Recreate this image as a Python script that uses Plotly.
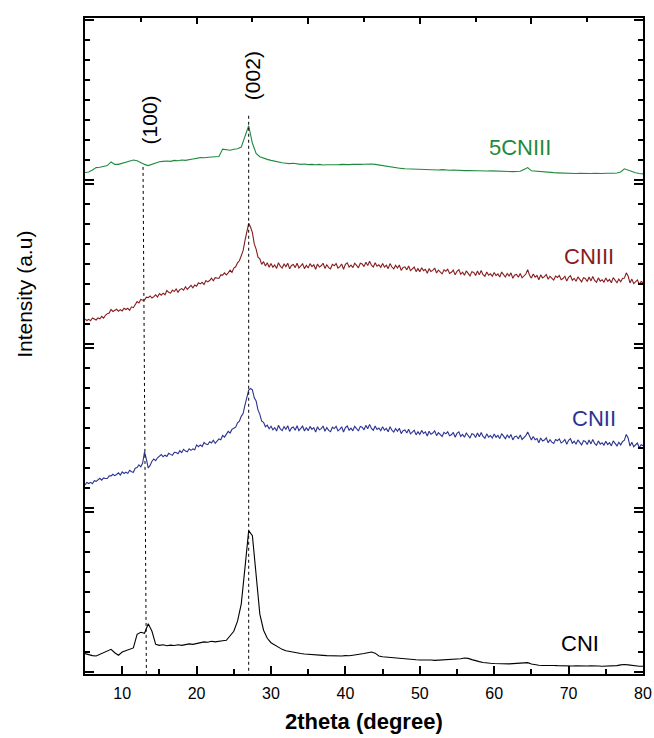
import plotly.graph_objects as go
from plotly.subplots import make_subplots

# ---------------- data ----------------
theta_start = 5.0          # 2theta of first sample (degree)
step_smooth = 0.5          # sampling step of 5CNIII and CNI (degree)
step_noisy = 0.25          # sampling step of CNIII and CNII (degree)

series_names = ["5CNIII", "CNIII", "CNII", "CNI"]

int_5cniii = [
    0.40, 0.42, 0.52, 0.64, 0.66, 0.70, 0.74, 0.92, 0.80, 0.80,
    0.86, 0.90, 0.97, 1.02, 0.98, 0.88, 0.80, 0.74, 0.80, 0.88,
    0.93, 0.95, 0.97, 0.95, 1.00, 0.98, 1.02, 1.00, 1.05, 1.07,
    1.10, 1.14, 1.13, 1.16, 1.17, 1.18, 1.19, 1.56, 1.52, 1.50,
    1.55, 1.58, 1.66, 2.14, 2.72, 1.85, 1.35, 1.18, 1.10, 1.05,
    1.00, 0.95, 0.92, 0.88, 0.86, 0.84, 0.86, 0.82, 0.80, 0.82,
    0.79, 0.80, 0.78, 0.80, 0.77, 0.78, 0.77, 0.79, 0.78, 0.80,
    0.78, 0.79, 0.80, 0.79, 0.80, 0.81, 0.82, 0.82, 0.80, 0.77,
    0.72, 0.69, 0.66, 0.64, 0.62, 0.60, 0.58, 0.57, 0.56, 0.55,
    0.55, 0.53, 0.54, 0.52, 0.53, 0.52, 0.54, 0.52, 0.51, 0.52,
    0.50, 0.51, 0.49, 0.50, 0.49, 0.48, 0.49, 0.48, 0.47, 0.48,
    0.47, 0.46, 0.47, 0.45, 0.46, 0.44, 0.45, 0.46, 0.55, 0.64,
    0.48, 0.46, 0.44, 0.42, 0.41, 0.40, 0.39, 0.38, 0.37, 0.36,
    0.37, 0.36, 0.35, 0.36, 0.35, 0.36, 0.35, 0.36, 0.34, 0.35,
    0.36, 0.35, 0.36, 0.37, 0.42, 0.58, 0.50, 0.42, 0.38, 0.35,
    0.33,
]

int_cniii = [
    1.26, 1.19, 1.25, 1.18, 1.32, 1.25, 1.22, 1.32, 1.28, 1.40,
    1.31, 1.45, 1.53, 1.56, 1.74, 1.64, 1.70, 1.75, 1.65, 1.73,
    1.67, 1.80, 1.74, 1.80, 1.70, 1.87, 1.83, 1.96, 2.13, 2.06,
    2.24, 2.20, 2.21, 2.35, 2.33, 2.41, 2.31, 2.38, 2.47, 2.36,
    2.53, 2.45, 2.55, 2.47, 2.68, 2.59, 2.55, 2.70, 2.63, 2.76,
    2.60, 2.73, 2.78, 2.70, 2.87, 2.74, 2.84, 2.94, 2.82, 2.96,
    2.90, 3.07, 3.01, 3.09, 2.98, 3.18, 3.11, 3.18, 3.30, 3.17,
    3.32, 3.28, 3.28, 3.46, 3.45, 3.56, 3.46, 3.56, 3.69, 3.58,
    3.80, 3.86, 4.06, 4.16, 4.40, 4.66, 5.16, 5.56, 6.02, 5.84,
    5.56, 5.00, 4.74, 4.34, 4.26, 3.98, 4.12, 3.90, 4.06, 3.84,
    4.02, 3.84, 3.95, 3.78, 4.06, 3.89, 3.80, 4.00, 3.87, 4.04,
    3.76, 3.93, 3.98, 3.82, 4.04, 3.80, 3.90, 4.01, 3.77, 3.94,
    3.80, 4.02, 3.87, 3.96, 3.74, 4.00, 3.85, 3.91, 4.04, 3.78,
    3.96, 3.82, 3.76, 3.98, 3.91, 4.02, 3.80, 3.87, 4.00, 3.74,
    3.98, 4.06, 3.85, 3.95, 3.82, 4.04, 3.93, 3.81, 4.04, 4.00,
    3.87, 4.09, 3.92, 4.14, 3.94, 3.85, 4.06, 3.89, 3.96, 3.83,
    4.02, 3.85, 3.94, 3.77, 4.02, 3.85, 3.76, 3.93, 3.80, 3.95,
    3.68, 3.83, 3.86, 3.71, 3.90, 3.67, 3.76, 3.85, 3.62, 3.77,
    3.62, 3.81, 3.67, 3.74, 3.54, 3.77, 3.63, 3.68, 3.80, 3.55,
    3.70, 3.58, 3.51, 3.71, 3.64, 3.74, 3.53, 3.59, 3.70, 3.46,
    3.64, 3.72, 3.49, 3.59, 3.44, 3.66, 3.53, 3.41, 3.62, 3.58,
    3.43, 3.65, 3.46, 3.68, 3.47, 3.39, 3.60, 3.44, 3.51, 3.39,
    3.58, 3.42, 3.51, 3.35, 3.60, 3.44, 3.35, 3.53, 3.40, 3.56,
    3.29, 3.45, 3.48, 3.34, 3.53, 3.31, 3.40, 3.50, 3.72, 3.44,
    3.30, 3.50, 3.35, 3.43, 3.22, 3.46, 3.31, 3.37, 3.48, 3.24,
    3.39, 3.27, 3.20, 3.40, 3.33, 3.43, 3.22, 3.28, 3.39, 3.15,
    3.34, 3.42, 3.19, 3.29, 3.14, 3.36, 3.23, 3.11, 3.32, 3.28,
    3.13, 3.35, 3.16, 3.38, 3.18, 3.09, 3.31, 3.15, 3.22, 3.10,
    3.30, 3.14, 3.23, 3.07, 3.32, 3.16, 3.07, 3.25, 3.12, 3.28,
    3.30, 3.56, 3.40, 3.06, 3.25, 3.03, 3.12, 3.21, 2.98, 3.13,
    3.07,
]

int_cnii = [
    1.17, 1.29, 1.24, 1.30, 1.23, 1.38, 1.35, 1.41, 1.50, 1.41,
    1.52, 1.49, 1.49, 1.62, 1.62, 1.70, 1.63, 1.69, 1.77, 1.66,
    1.82, 1.74, 1.81, 1.74, 1.90, 1.83, 1.80, 2.00, 2.03, 2.17,
    2.07, 2.26, 2.81, 2.45, 2.01, 2.14, 2.35, 2.46, 2.38, 2.52,
    2.61, 2.68, 2.57, 2.65, 2.59, 2.74, 2.69, 2.64, 2.79, 2.78,
    2.72, 2.87, 2.78, 2.94, 2.85, 2.82, 2.97, 2.89, 2.96, 2.92,
    3.16, 3.07, 3.16, 3.08, 3.28, 3.20, 3.17, 3.32, 3.26, 3.39,
    3.24, 3.38, 3.46, 3.42, 3.63, 3.55, 3.69, 3.83, 3.75, 3.93,
    3.99, 4.04, 4.26, 4.34, 4.58, 4.72, 5.14, 5.46, 5.88, 5.96,
    5.90, 5.50, 5.34, 4.90, 4.68, 4.34, 4.28, 4.06, 4.14, 3.96,
    4.09, 3.91, 4.02, 3.85, 4.13, 3.96, 3.87, 4.07, 3.94, 4.11,
    3.83, 4.00, 4.05, 3.89, 4.11, 3.87, 3.98, 4.09, 3.85, 4.02,
    3.86, 4.08, 3.93, 4.02, 3.80, 4.06, 3.91, 3.97, 4.10, 3.84,
    4.02, 3.88, 3.82, 4.04, 3.97, 4.08, 3.86, 3.93, 4.06, 3.80,
    4.02, 4.10, 3.89, 3.99, 3.86, 4.08, 3.97, 3.85, 4.08, 4.04,
    3.91, 4.13, 3.96, 4.18, 3.98, 3.89, 4.10, 3.93, 4.00, 3.87,
    4.06, 3.89, 3.98, 3.81, 4.06, 3.89, 3.80, 3.97, 3.84, 3.99,
    3.72, 3.87, 3.90, 3.75, 3.94, 3.71, 3.80, 3.89, 3.66, 3.81,
    3.68, 3.88, 3.73, 3.81, 3.60, 3.84, 3.69, 3.75, 3.86, 3.62,
    3.77, 3.65, 3.58, 3.78, 3.71, 3.81, 3.61, 3.66, 3.78, 3.54,
    3.73, 3.81, 3.58, 3.68, 3.54, 3.75, 3.63, 3.50, 3.72, 3.68,
    3.53, 3.75, 3.56, 3.78, 3.58, 3.49, 3.71, 3.54, 3.62, 3.50,
    3.70, 3.54, 3.63, 3.47, 3.72, 3.56, 3.47, 3.65, 3.52, 3.68,
    3.41, 3.57, 3.60, 3.46, 3.65, 3.43, 3.52, 3.62, 3.80, 3.56,
    3.40, 3.58, 3.42, 3.48, 3.27, 3.50, 3.35, 3.40, 3.51, 3.27,
    3.42, 3.30, 3.23, 3.43, 3.37, 3.46, 3.26, 3.32, 3.43, 3.19,
    3.39, 3.47, 3.24, 3.34, 3.19, 3.41, 3.28, 3.16, 3.37, 3.33,
    3.18, 3.40, 3.21, 3.43, 3.23, 3.14, 3.36, 3.20, 3.27, 3.15,
    3.34, 3.18, 3.27, 3.11, 3.36, 3.20, 3.11, 3.29, 3.16, 3.32,
    3.40, 3.68, 3.50, 3.10, 3.29, 3.07, 3.16, 3.25, 3.02, 3.17,
    3.12,
]

int_cni = [
    0.94, 0.88, 0.84, 0.82, 0.90, 0.96, 1.08, 1.15, 0.98, 0.86,
    1.02, 1.10, 1.14, 1.22, 1.90, 2.00, 1.95, 2.42, 2.05, 1.40,
    1.35, 1.38, 1.33, 1.36, 1.34, 1.38, 1.35, 1.40, 1.42, 1.40,
    1.45, 1.48, 1.52, 1.50, 1.55, 1.52, 1.56, 1.58, 1.60, 1.80,
    2.05, 2.55, 3.40, 5.20, 7.05, 6.80, 4.70, 2.90, 2.10, 1.70,
    1.48, 1.36, 1.25, 1.15, 1.08, 1.04, 1.00, 0.97, 0.94, 0.92,
    0.90, 0.88, 0.87, 0.86, 0.85, 0.84, 0.83, 0.82, 0.83, 0.82,
    0.84, 0.83, 0.86, 0.88, 0.90, 0.94, 0.98, 1.02, 0.96, 0.82,
    0.78, 0.76, 0.74, 0.72, 0.70, 0.68, 0.66, 0.65, 0.64, 0.63,
    0.62, 0.63, 0.61, 0.62, 0.60, 0.61, 0.62, 0.64, 0.63, 0.65,
    0.66, 0.68, 0.72, 0.70, 0.64, 0.58, 0.54, 0.50, 0.47, 0.46,
    0.45, 0.44, 0.45, 0.44, 0.43, 0.44, 0.45, 0.48, 0.50, 0.49,
    0.42, 0.38, 0.36, 0.35, 0.36, 0.34, 0.35, 0.34, 0.33, 0.34,
    0.33, 0.32, 0.33, 0.32, 0.31, 0.32, 0.33, 0.31, 0.32, 0.31,
    0.32, 0.31, 0.33, 0.34, 0.38, 0.40, 0.38, 0.35, 0.32, 0.31,
    0.31,
]

series_values = [int_5cniii, int_cniii, int_cnii, int_cni]
series_steps = [step_smooth, step_noisy, step_noisy, step_smooth]

peak_labels = ["(100)", "(002)"]
peak_theta_top = [12.8, 27.0]
peak_theta_bottom = [13.25, 27.0]

# ---------------- styles / positions ----------------
series_colors = ["#1e8a3e", "#861c1f", "#2b3491", "#000000"]
label_pos = [(63.4, 0.803), (72.8, 0.636), (73.4, 0.390), (71.5, 0.047)]
peak_line_top = [0.773, 0.851]           # paper y where dotted lines start
peak_label_pos = [(13.7, 0.845), (27.5, 0.912)]

FONT = "Liberation Sans, Arial, sans-serif"

fig = make_subplots(rows=4, cols=1, vertical_spacing=0)

for i, (name, vals, step, col) in enumerate(
        zip(series_names, series_values, series_steps, series_colors)):
    fig.add_trace(
        go.Scatter(
            x0=theta_start, dx=step, y=vals, mode="lines", name=name,
            line=dict(color=col, width=1.1), showlegend=False, hoverinfo="skip",
        ),
        row=i + 1, col=1,
    )

for r in range(1, 5):
    fig.update_yaxes(
        range=[-0.075, 8.075], showticklabels=False, showgrid=False, zeroline=False,
        automargin=False,
        showline=True, linecolor="black", linewidth=2, mirror="ticks",
        ticks="inside", tickvals=[0, 8], ticklen=9, tickwidth=2, tickcolor="black",
        minor=dict(ticks="inside", dtick=1, tick0=0, ticklen=5, tickwidth=1.5, tickcolor="black"),
        row=r, col=1,
    )
    fig.update_xaxes(range=[5, 80], showgrid=False, zeroline=False, automargin=False,
                     row=r, col=1)

# top axis (row 1)
fig.update_xaxes(
    side="top", showline=True, linecolor="black", linewidth=2,
    ticks="inside", tick0=5, dtick=15, ticklen=6, tickwidth=1.5, tickcolor="black",
    minor=dict(ticks="inside", tick0=5, dtick=7.5, ticklen=4, tickwidth=1.5, tickcolor="black"),
    showticklabels=False, row=1, col=1,
)
for r in (2, 3):
    fig.update_xaxes(showline=False, ticks="", showticklabels=False, row=r, col=1)

fig.update_xaxes(
    showline=True, linecolor="black", linewidth=2,
    ticks="inside", tick0=0, dtick=10, ticklen=8, tickwidth=1.5, tickcolor="black",
    minor=dict(ticks="inside", tick0=0, dtick=5, ticklen=5, tickwidth=1.5, tickcolor="black"),
    showticklabels=True, tickfont=dict(family=FONT, size=16, color="black"),
    ticklabelstandoff=4, ticklabeloverflow="allow",
    row=4, col=1,
)

# dotted reference lines
for tt, tb, ytop in zip(peak_theta_top, peak_theta_bottom, peak_line_top):
    fig.add_shape(type="line", xref="x4", yref="paper", x0=tt, x1=tb, y0=ytop, y1=0,
                  line=dict(color="black", width=1, dash="dot"))

annotations = []
for lab, (px, py) in zip(peak_labels, peak_label_pos):
    annotations.append(dict(text=lab, x=px, y=py, xref="x4", yref="paper", showarrow=False,
                            textangle=-90, font=dict(family=FONT, size=21, color="black"),
                            xanchor="center", yanchor="middle"))
for name, col, (px, py) in zip(series_names, series_colors, label_pos):
    annotations.append(dict(text=name, x=px, y=py, xref="x4", yref="paper", showarrow=False,
                            font=dict(family=FONT, size=22, color=col),
                            xanchor="center", yanchor="middle"))
annotations.append(dict(text="Intensity (a.u)", x=-0.1075, y=0.578, xref="paper", yref="paper",
                        showarrow=False, textangle=-90,
                        font=dict(family=FONT, size=21, color="black"),
                        xanchor="center", yanchor="middle"))
annotations.append(dict(text="<b>2theta (degree)</b>", x=0.5, y=-0.073, xref="paper", yref="paper",
                        showarrow=False, font=dict(family=FONT, size=22, color="black"),
                        xanchor="center", yanchor="middle"))

fig.update_layout(
    width=654, height=738,
    margin=dict(l=85, r=11, t=18, b=64, autoexpand=False),
    plot_bgcolor="white", paper_bgcolor="white",
    annotations=annotations,
    showlegend=False,
    hovermode=False,
)

# remove the page's default 8 px body margin so the 654x738 figure fills the window
fig.write_html("out.html",
               config={"displayModeBar": False},
               post_script="document.body.style.margin='0';document.body.style.overflow='hidden';")
